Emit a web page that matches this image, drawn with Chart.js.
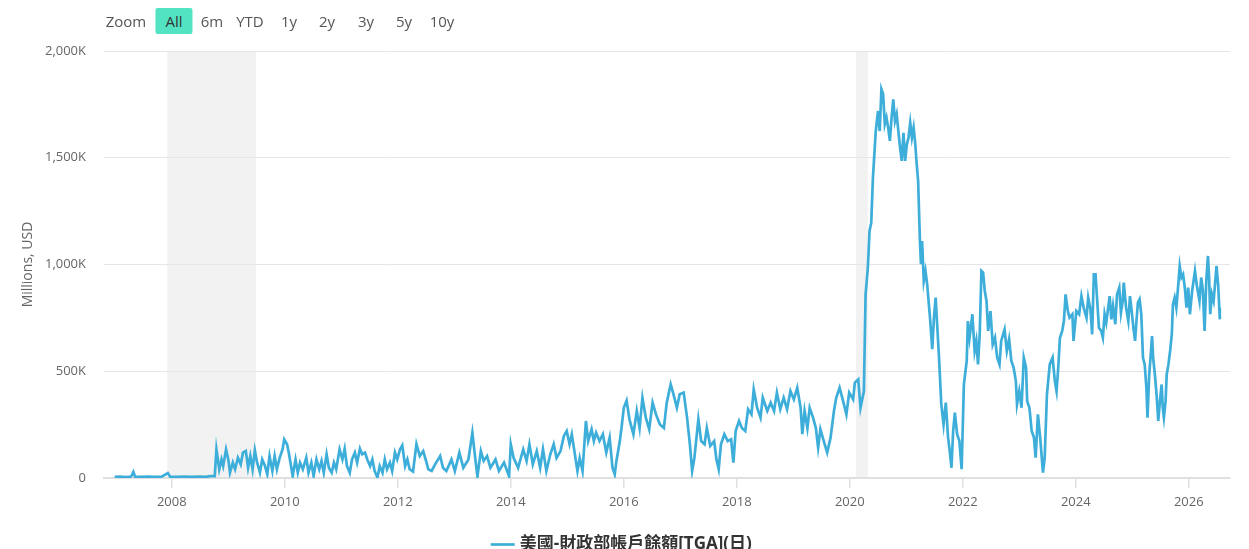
<!DOCTYPE html>
<html>
<head>
<meta charset="utf-8">
<script src="https://cdn.jsdelivr.net/npm/chart.js@4/dist/chart.umd.min.js"></script>
<style>
   html, body { margin: 0; padding: 0; background: #fff; overflow: hidden; }
   #wrap { position: relative; width: 1249px; height: 563px; }
   #zoom { position: absolute; left: 0; top: 0; width: 600px; height: 44px; font: 15px "Open Sans", sans-serif; color: #555; }
   #zoom span { position: absolute; top: 21px; transform: translate(-50%, -50%); white-space: nowrap; }
   #zoom .on { background: #52e3c2; color: #333; border-radius: 2px; padding: 3px 10px; }
</style>
</head>
<body>
<div id="wrap">
   <canvas id="chart" width="1249" height="563"></canvas>
   <div id="zoom"></div>
</div>
<script>
// decimal years and balance (thousand millions USD), one line per year
const years = [
   2006.99, 2007.08, 2007.18, 2007.28, 2007.32, 2007.35, 2007.45, 2007.58, 2007.7, 2007.82, 2007.93, 2007.97,
   2008.1, 2008.22, 2008.35, 2008.48, 2008.6, 2008.67, 2008.76, 2008.79, 2008.84, 2008.88, 2008.91, 2008.96,
   2009.0, 2009.03, 2009.08, 2009.12, 2009.17, 2009.22, 2009.26, 2009.31, 2009.35, 2009.39, 2009.43, 2009.47, 2009.51, 2009.56, 2009.6, 2009.65, 2009.69, 2009.73, 2009.78, 2009.82, 2009.86, 2009.91, 2009.96, 2009.99,
   2010.04, 2010.07, 2010.11, 2010.14, 2010.19, 2010.23, 2010.27, 2010.32, 2010.38, 2010.42, 2010.47, 2010.51, 2010.56, 2010.61, 2010.65, 2010.69, 2010.74, 2010.78, 2010.83, 2010.87, 2010.91, 2010.97,
   2011.02, 2011.06, 2011.1, 2011.15, 2011.19, 2011.24, 2011.28, 2011.33, 2011.37, 2011.42, 2011.46, 2011.51, 2011.55, 2011.59, 2011.64, 2011.68, 2011.73, 2011.77, 2011.81, 2011.86, 2011.9, 2011.95, 2011.99,
   2012.04, 2012.08, 2012.13, 2012.17, 2012.21, 2012.27, 2012.33, 2012.39, 2012.45, 2012.5, 2012.54, 2012.6, 2012.66, 2012.75, 2012.8, 2012.86, 2012.95,
   2013.01, 2013.09, 2013.16, 2013.25, 2013.32, 2013.37, 2013.41, 2013.47, 2013.52, 2013.58, 2013.64, 2013.73, 2013.79, 2013.88, 2013.97,
   2014.0, 2014.05, 2014.13, 2014.22, 2014.28, 2014.33, 2014.39, 2014.46, 2014.52, 2014.57, 2014.63, 2014.7, 2014.76, 2014.81, 2014.88, 2014.94, 2014.99,
   2015.04, 2015.08, 2015.13, 2015.18, 2015.22, 2015.27, 2015.33, 2015.37, 2015.43, 2015.47, 2015.51, 2015.57, 2015.63, 2015.69, 2015.75, 2015.8, 2015.84, 2015.87, 2015.93, 2015.96,
   2016.0, 2016.05, 2016.1, 2016.17, 2016.23, 2016.28, 2016.33, 2016.39, 2016.45, 2016.51, 2016.57, 2016.64, 2016.71, 2016.76, 2016.83, 2016.88, 2016.94, 2016.99,
   2017.06, 2017.12, 2017.17, 2017.21, 2017.25, 2017.32, 2017.37, 2017.43, 2017.47, 2017.53, 2017.6, 2017.64, 2017.68, 2017.72, 2017.78, 2017.84, 2017.9, 2017.94, 2017.98,
   2018.04, 2018.09, 2018.15, 2018.2, 2018.26, 2018.3, 2018.36, 2018.42, 2018.46, 2018.54, 2018.6, 2018.66, 2018.71, 2018.77, 2018.83, 2018.89, 2018.95,
   2019.01, 2019.07, 2019.13, 2019.16, 2019.2, 2019.25, 2019.29, 2019.35, 2019.4, 2019.44, 2019.48, 2019.54, 2019.6, 2019.66, 2019.72, 2019.76, 2019.82, 2019.88, 2019.94, 2019.99,
   2020.06, 2020.09, 2020.15, 2020.19, 2020.25, 2020.28, 2020.32, 2020.35, 2020.38, 2020.41, 2020.46, 2020.5, 2020.53, 2020.56, 2020.59, 2020.62, 2020.65, 2020.68, 2020.71, 2020.74, 2020.77, 2020.8, 2020.83, 2020.86, 2020.89, 2020.92, 2020.95, 2020.98,
   2021.01, 2021.04, 2021.07, 2021.1, 2021.13, 2021.16, 2021.18, 2021.21, 2021.24, 2021.26, 2021.28, 2021.31, 2021.34, 2021.37, 2021.4, 2021.42, 2021.46, 2021.49, 2021.52, 2021.55, 2021.58, 2021.62, 2021.66, 2021.7, 2021.74, 2021.77, 2021.8, 2021.83, 2021.86, 2021.9, 2021.94, 2021.98,
   2022.02, 2022.07, 2022.09, 2022.12, 2022.17, 2022.21, 2022.24, 2022.27, 2022.3, 2022.33, 2022.36, 2022.39, 2022.42, 2022.45, 2022.49, 2022.53, 2022.57, 2022.61, 2022.65, 2022.68, 2022.74, 2022.78, 2022.82, 2022.86, 2022.9, 2022.94, 2022.96,
   2023.0, 2023.04, 2023.08, 2023.12, 2023.14, 2023.18, 2023.22, 2023.26, 2023.29, 2023.33, 2023.37, 2023.42, 2023.45, 2023.49, 2023.54, 2023.59, 2023.63, 2023.66, 2023.69, 2023.72, 2023.76, 2023.79, 2023.82, 2023.86, 2023.89, 2023.94, 2023.96,
   2024.01, 2024.06, 2024.1, 2024.14, 2024.19, 2024.22, 2024.26, 2024.29, 2024.32, 2024.35, 2024.38, 2024.41, 2024.45, 2024.48, 2024.51, 2024.54, 2024.57, 2024.6, 2024.63, 2024.66, 2024.7, 2024.73, 2024.77, 2024.8, 2024.83, 2024.85, 2024.89, 2024.93, 2024.96, 2024.99,
   2025.02, 2025.05, 2025.07, 2025.1, 2025.13, 2025.16, 2025.19, 2025.22, 2025.25, 2025.27, 2025.3, 2025.33, 2025.35, 2025.37, 2025.4, 2025.43, 2025.46, 2025.49, 2025.52, 2025.54, 2025.56, 2025.59, 2025.61, 2025.64, 2025.67, 2025.7, 2025.72, 2025.75, 2025.78, 2025.81, 2025.84, 2025.87, 2025.9, 2025.93, 2025.96, 2025.99,
   2026.02, 2026.06, 2026.11, 2026.14, 2026.16, 2026.19, 2026.22, 2026.25, 2026.28, 2026.31, 2026.34, 2026.36, 2026.38, 2026.41, 2026.44, 2026.47, 2026.49, 2026.52, 2026.54, 2026.55,
];
const balances = [
   5, 6, 4, 7, 28, 6, 5, 7, 5, 6, 23, 6,
   5, 7, 5, 6, 5, 9, 9, 134, 41, 87, 56, 134,
   87, 25, 72, 41, 95, 64, 119, 127, 48, 103, 41, 130, 72, 25, 87, 56, 17, 103, 33, 103, 41, 95, 134, 181,
   158, 119, 56, 9, 87, 25, 72, 41, 95, 25, 72, 9, 87, 41, 80, 25, 111, 48, 25, 72, 41, 134,
   87, 137, 56, 25, 87, 119, 72, 137, 111, 119, 87, 56, 87, 33, 2, 56, 25, 87, 41, 72, 33, 119, 87,
   134, 153, 56, 87, 41, 30, 159, 103, 126, 80, 41, 33, 64, 103, 48, 33, 87,
   33, 119, 48, 87, 212, 94, 8, 126, 80, 103, 48, 87, 33, 72, 8,
   158, 94, 48, 134, 80, 158, 64, 126, 48, 134, 33, 111, 158, 94, 126, 197, 220,
   158, 205, 119, 33, 94, 33, 267, 173, 228, 173, 212, 173, 205, 119, 189, 48, 17, 80, 173, 234,
   329, 362, 275, 205, 314, 234, 376, 283, 228, 353, 298, 251, 234, 353, 439, 392, 329, 392,
   400, 283, 158, 33, 94, 275, 173, 158, 234, 150, 173, 87, 41, 158, 205, 173, 181, 72, 220,
   267, 234, 220, 322, 298, 415, 329, 283, 376, 314, 353, 314, 400, 322, 376, 322, 407,
   368, 423, 329, 205, 314, 234, 329, 283, 234, 142, 228, 173, 119, 189, 314, 376, 423, 362, 298, 400,
   368, 447, 462, 329, 407, 860, 985, 1157, 1196, 1407, 1625, 1719, 1625, 1821, 1798, 1657, 1688, 1641, 1579, 1688, 1774, 1672, 1704, 1625, 1547, 1485, 1617, 1485,
   1563, 1594, 1664, 1594, 1641, 1563, 1485, 1391, 1126, 1001, 1110, 923, 970, 907, 813, 751, 603, 751, 845, 704, 563, 345, 251, 353, 189, 126, 48, 220, 306, 205, 173, 41,
   439, 548, 735, 657, 767, 595, 642, 532, 673, 970, 962, 876, 829, 689, 782, 626, 657, 563, 532, 642, 696, 595, 650, 548, 517, 454, 345,
   407, 329, 563, 517, 360, 329, 220, 189, 95, 298, 189, 25, 95, 392, 532, 564, 454, 407, 517, 657, 689, 735, 860, 782, 751, 767, 642,
   782, 767, 852, 798, 751, 845, 790, 673, 954, 954, 829, 704, 689, 657, 767, 728, 790, 852, 743, 806, 720, 860, 892, 775, 829, 915, 798, 735, 852, 782,
   704, 642, 720, 821, 837, 767, 563, 532, 423, 283, 485, 587, 665, 563, 485, 392, 267, 360, 438, 329, 283, 360, 485, 532, 595, 673, 813, 845, 798, 892, 993, 939, 954, 892, 798, 892,
   767, 876, 970, 907, 876, 829, 939, 876, 689, 923, 1040, 939, 767, 860, 829, 923, 993, 907, 798, 743,
];
const recessions = [[2007.92, 2009.49], [2020.11, 2020.32]];
const tickYears = [2008, 2010, 2012, 2014, 2016, 2018, 2020, 2022, 2024, 2026];
const SERIES_NAME = "美國-財政部帳戶餘額[TGA](日)";
const zoomButtons = [["Zoom", 126], ["All", 174], ["6m", 212], ["YTD", 250], ["1y", 289], ["2y", 327], ["3y", 366], ["5y", 404], ["10y", 442]];

const zoomBox = document.getElementById("zoom");
zoomButtons.forEach(([label, x]) => {
   const s = document.createElement("span");
   s.textContent = label;
   s.style.left = x + "px";
   if (label === "All") s.className = "on";
   zoomBox.appendChild(s);
});

const recessionBands = {
   id: "recessionBands",
   beforeDraw(chart) {
      const { ctx, chartArea, scales } = chart;
      ctx.save();
      ctx.fillStyle = "#f2f2f2";
      recessions.forEach(([a, b]) => {
         const x1 = scales.x.getPixelForValue(a);
         const x2 = scales.x.getPixelForValue(b);
         ctx.fillRect(x1, chartArea.top, x2 - x1, chartArea.bottom - chartArea.top);
      });
      ctx.restore();
   },
};

Chart.defaults.font.family = '"Open Sans", "Noto Sans CJK TC", sans-serif';
Chart.defaults.color = "#666";

const ctx = document.getElementById("chart").getContext("2d");
new Chart(ctx, {
   type: "line",
   data: {
      datasets: [
         {
            label: SERIES_NAME,
            data: years.map((y, i) => ({ x: y, y: balances[i] * 1000 })),
            borderColor: "#3daed9",
            backgroundColor: "#3daed9",
            borderWidth: 2.7,
            pointRadius: 0,
            tension: 0,
         },
      ],
   },
   options: {
      responsive: false,
      animation: false,
      layout: { padding: { top: 51, left: 16, right: 19, bottom: 0 } },
      scales: {
         x: {
            type: "linear",
            min: 2006.8,
            max: 2026.73,
            afterBuildTicks: (axis) => {
               axis.ticks = tickYears.map((v) => ({ value: v }));
            },
            afterFit: (axis) => {
               axis.height = 48;
            },
            ticks: {
               callback: (v) => String(v),
               font: { size: 13 },
               color: "#666",
               padding: 6,
               maxRotation: 0,
            },
            grid: { drawOnChartArea: false, drawTicks: true, tickLength: 10, color: "#e0e0e0", lineWidth: 1.5 },
            border: { color: "#e0e0e0", width: 2 },
         },
         y: {
            min: 0,
            max: 2000000,
            afterFit: (axis) => {
               axis.width = 88;
            },
            ticks: {
               stepSize: 500000,
               padding: 18,
               font: { size: 13 },
               color: "#666",
               callback: (v) => (v === 0 ? "0" : (v / 1000).toLocaleString("en-US") + "K"),
            },
            grid: { color: "#e6e6e6", drawTicks: false, lineWidth: 1 },
            border: { display: false },
            title: { display: true, text: "Millions, USD", font: { size: 14 }, color: "#666" },
         },
      },
      plugins: {
         legend: {
            position: "bottom",
            labels: {
               usePointStyle: true,
               pointStyle: "line",
               boxWidth: 18,
               color: "#333",
               font: { size: 17, weight: "bold" },
            },
         },
         tooltip: { enabled: false },
      },
   },
   plugins: [recessionBands],
});
</script>
</body>
</html>
